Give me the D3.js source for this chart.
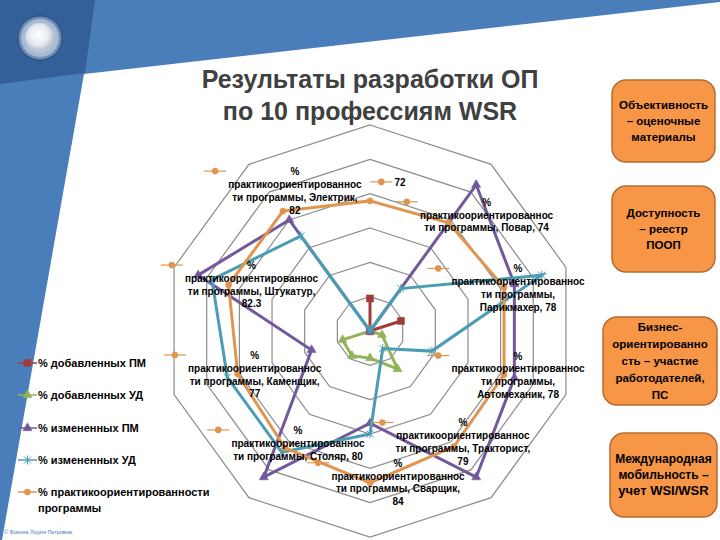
<!DOCTYPE html>
<html>
<head>
  <meta charset="utf-8">
  <script src="https://d3js.org/d3.v7.min.js"></script>
  <style>
    body { margin:0; background:#fff; }
    text { font-family: "Liberation Sans", Arial, sans-serif; }
  </style>
</head>
<body>
  <div id="container"></div>
  <script>

    var w = 720,
        h = 540;

    // categories clockwise from the top spoke
    var categories = ["", "Повар", "Парикмахер", "Автомеханик", "Тракторист", "Сварщик", "Столяр", "Каменщик", "Штукатур", "Электрик"];

    var addedPM   = [18, 0, 18, 0, 0, 0, 0, 0, 0, 0];
    var addedUD   = [0, 0, 0, 7, 26, 15, 17, 16, 0, 0];
    var changedPM = [0, 100, 84, 84, 100, 51, 100, 34, 100, 76];
    var changedUD = [0, 29, 100, 36, 12, 57, 83, 83, 92, 65];
    var practice  = [72, 74, 78, 78, 79, 84, 80, 77, 82.3, 82];

    var seriesNames = ["% добавленных ПМ", "% добавленных УД", "% измененных ПМ", "% измененных УД", "% практикоориентированности программы"];
    var gridLevels = [19, 38, 57, 76, 95, 114];

    // how each data label wraps ("{c}" = category, "{v}" = value)
    var labelWrap = [
      ["{v}"],
      ["%", "практикоориентированнос", "ти программы, {c}, {v}"],
      ["%", "практикоориентированнос", "ти программы,", "{c}, {v}"],
      ["%", "практикоориентированнос", "ти программы,", "{c}, {v}"],
      ["%", "практикоориентированнос", "ти программы, {c},", "{v}"],
      ["%", "практикоориентированнос", "ти программы, {c},", "{v}"],
      ["%", "практикоориентированнос", "ти программы, {c}, {v}"],
      ["%", "практикоориентированнос", "ти программы, {c},", "{v}"],
      ["%", "практикоориентированнос", "ти программы, {c},", "{v}"],
      ["%", "практикоориентированнос", "ти программы, {c},", "{v}"]
    ];

    var sideNotes = [
      ["Объективность", "– оценочные", "материалы"],
      ["Доступность", "– реестр", "ПООП"],
      ["Бизнес-", "ориентированно", "сть – участие", "работодателей,", "ПС"],
      ["Международная", "мобильность –", "учет WSI/WSR"]
    ];

    var svg = d3.select("#container").append("svg")
        .attr("width", w)
        .attr("height", h);

    // slide background
    svg.append("rect").attr("width", w).attr("height", h).attr("fill", "#fff");
    svg.append("path")
        .attr("d", "M0,0 L720,0 L720,2 L84,74 L2,540 L0,540 Z")
        .attr("fill", "#4a7ebb");
    svg.append("path")
        .attr("d", "M0,0 L95,0 L85,73 L0,84 Z")
        .attr("fill", "#34609a");

    var defs = svg.append("defs");
    var grad = defs.append("radialGradient").attr("id", "btn").attr("cx", "45%").attr("cy", "40%");
    grad.append("stop").attr("offset", "0%").attr("stop-color", "#ffffff");
    grad.append("stop").attr("offset", "70%").attr("stop-color", "#e4e8ee");
    grad.append("stop").attr("offset", "100%").attr("stop-color", "#b9c4d3");
    svg.append("circle").attr("cx", 40).attr("cy", 38).attr("r", 22)
        .attr("fill", "#6f8fb6").attr("stroke", "#2c4d77").attr("stroke-width", 1);
    svg.append("circle").attr("cx", 40).attr("cy", 38).attr("r", 19)
        .attr("fill", "#a9bbd2");
    svg.append("circle").attr("cx", 40).attr("cy", 38).attr("r", 15)
        .attr("fill", "url(#btn)");

    // title
    var title = svg.append("text")
        .attr("x", 370).attr("y", 88)
        .attr("text-anchor", "middle")
        .attr("font-size", 25).attr("font-weight", "bold").attr("fill", "#404040");
    title.append("tspan").attr("x", 370).text("Результаты разработки ОП");
    title.append("tspan").attr("x", 370).attr("dy", 32).text("по 10 профессиям WSR");

    // radar
    var cx = 370, cy = 331;
    var n = categories.length;
    var r = d3.scaleLinear().domain([0, 114]).range([0, 206]);
    var angle = d3.scaleLinear().domain([0, n]).range([0, 2 * Math.PI]);

    var g = svg.append("g").attr("transform", "translate(" + cx + "," + cy + ")");

    var ring = d3.lineRadial()
        .angle(function(d, i) { return angle(i); })
        .radius(function(d) { return r(d); })
        .curve(d3.curveLinearClosed);

    g.selectAll(".grid")
        .data(gridLevels)
      .enter().append("path")
        .attr("class", "grid")
        .attr("d", function(lv) { return ring(d3.range(n).map(function() { return lv; })); })
        .attr("fill", "none")
        .attr("stroke", "#8c8c8c")
        .attr("stroke-width", 1.2);

    var series = [
      { name: seriesNames[0], values: addedPM,   color: "#a23c3a", marker: "square" },
      { name: seriesNames[1], values: addedUD,   color: "#93b35a", marker: "triangle" },
      { name: seriesNames[2], values: changedPM, color: "#71599b", marker: "triangle" },
      { name: seriesNames[3], values: changedUD, color: "#4a9db4", marker: "asterisk" },
      { name: seriesNames[4], values: practice,  color: "#e0954f", marker: "circle" }
    ];

    function markerPath(type, size) {
      if (type == "asterisk") {
        var s = size;
        return "M" + (-s) + "," + (-s) + "L" + s + "," + s +
               "M" + (-s) + "," + s + "L" + s + "," + (-s) +
               "M0," + (-s * 1.3) + "L0," + (s * 1.3);
      }
      var t = { square: d3.symbolSquare, triangle: d3.symbolTriangle, circle: d3.symbolCircle }[type];
      var area = { square: 50, triangle: 36, circle: 30 }[type];
      return d3.symbol().type(t).size(area)();
    }

    function drawMarker(sel, s) {
      sel.attr("d", markerPath(s.marker, 3.5))
        .attr("fill", s.marker == "asterisk" ? "none" : s.color)
        .attr("stroke", s.color)
        .attr("stroke-width", s.marker == "asterisk" ? 1 : 0.5);
    }

    series.forEach(function(s) {
      g.append("path")
        .attr("d", ring(s.values))
        .attr("fill", "none")
        .attr("stroke", s.color)
        .attr("stroke-width", 3)
        .attr("stroke-linejoin", "miter");
      g.selectAll(null)
          .data(s.values)
        .enter().append("path")
          .attr("transform", function(d, i) {
            var p = d3.pointRadial(angle(i), r(d));
            return "translate(" + p[0] + "," + p[1] + ")";
          })
          .call(drawMarker, s);
    });

    // data labels of the practice series
    var labelOffsets = [[30, -19], [38, -21], [14, -19], [14, -19], [9, -24], [28, -20], [13, -18], [17, -19], [23, -20], [12, -40]];
    var orange = series[4];

    practice.forEach(function(v, i) {
      var lines = labelWrap[i].map(function(l) {
        return l.replace("{c}", categories[i]).replace("{v}", v);
      });
      var p = d3.pointRadial(angle(i), r(v));
      var lx = cx + p[0] + labelOffsets[i][0],
          ly = cy + p[1] + labelOffsets[i][1];
      var t = svg.append("text")
          .attr("text-anchor", "middle")
          .attr("font-size", 10)
          .attr("font-weight", "bold")
          .attr("fill", "#000");
      lines.forEach(function(line, k) {
        t.append("tspan").attr("x", lx).attr("y", ly + 4 + k * 12.8).text(line);
      });
      var bw = t.node().getBBox().width;
      var kx = lx - bw / 2 - 24;
      svg.append("line")
          .attr("x1", kx).attr("x2", kx + 22)
          .attr("y1", ly).attr("y2", ly)
          .attr("stroke", orange.color).attr("stroke-width", 1.2);
      svg.append("path")
          .attr("transform", "translate(" + (kx + 11) + "," + ly + ")")
          .call(drawMarker, orange);
    });

    // legend
    var legendY = [363, 395, 428, 460, 492];
    series.forEach(function(s, i) {
      var y = legendY[i];
      svg.append("line")
          .attr("x1", 18).attr("x2", 37)
          .attr("y1", y).attr("y2", y)
          .attr("stroke", s.color).attr("stroke-width", 1.5);
      svg.append("path")
          .attr("transform", "translate(27.5," + y + ")")
          .call(drawMarker, s);
      var t = svg.append("text")
          .attr("x", 38).attr("y", y + 4)
          .attr("font-size", 11)
          .attr("font-weight", "bold")
          .attr("fill", "#000");
      if (i == 4) {
        t.append("tspan").attr("x", 38).text("% практикоориентированности");
        t.append("tspan").attr("x", 38).attr("dy", 16).text("программы");
      } else {
        t.text(s.name);
      }
    });

    // side notes
    var boxes = [[612, 80, 103, 82], [612, 186, 103, 86], [603, 317, 114, 88], [610, 433, 107, 84]];
    var noteSize = [11.5, 11.5, 11.5, 12];
    sideNotes.forEach(function(lines, i) {
      var b = boxes[i];
      svg.append("rect")
          .attr("x", b[0]).attr("y", b[1])
          .attr("width", b[2]).attr("height", b[3])
          .attr("rx", 14)
          .attr("fill", "#f79646")
          .attr("stroke", "#b66d31")
          .attr("stroke-width", 1.5);
      var lh = i == 2 ? 16.8 : 15.8;
      var y0 = b[1] + b[3] / 2 - (lines.length - 1) * lh / 2 + 4;
      var t = svg.append("text")
          .attr("text-anchor", "middle")
          .attr("font-size", noteSize[i])
          .attr("font-weight", "bold")
          .attr("fill", "#000");
      lines.forEach(function(line, k) {
        t.append("tspan").attr("x", b[0] + b[2] / 2).attr("y", y0 + k * lh)
          .attr("font-size", (i == 3 && k == 2) ? 13 : null)
          .text(line);
      });
    });

    svg.append("text")
        .attr("x", 4).attr("y", 534)
        .attr("font-size", 5.5)
        .attr("fill", "#4a7ebb")
        .text("© Фокина Лидия Петровна.");

  </script>
</body>
</html>
